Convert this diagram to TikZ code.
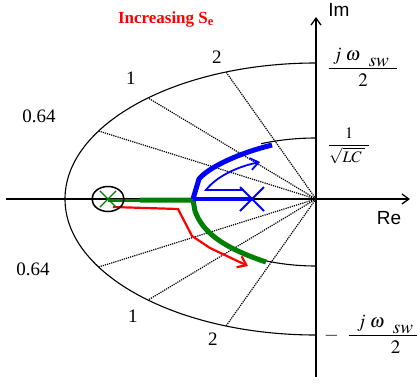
\documentclass[tikz,border=0pt]{standalone}
\usepackage{mathptmx}
\usepackage[no-math]{fontspec}
\setmainfont{Liberation Serif}
\newfontfamily\axisfont{Liberation Sans}
\usetikzlibrary{arrows.meta, shapes.geometric, shapes.misc}

\newcommand{\swsub}{\smash{\lower6pt\hbox{$sw$}}}

\begin{document}
\begin{tikzpicture}[x=1pt, y=1pt,
        axis/.style={-{Straight Barb[length=7pt, width=10pt]}, line width=1.3pt},
        bound/.style={line width=1.1pt},
        ray/.style={densely dotted, line width=1.2pt},
        lbl/.style={font=\fontsize{19}{22}\selectfont},
        axlbl/.style={font=\axisfont\fontsize{19}{22}\selectfont},
        wide/.style={line width=5pt},
        tip/.style={-{Straight Barb[length=8pt, width=12pt]}, line width=1.8pt},
    ]

    \useasboundingbox (-316,-184) rectangle (101,199);

    % Origin and axis ends:
    \coordinate (O) at (0,0);
    \coordinate (reL) at (-310,0);
    \coordinate (reR) at (94,0);
    \coordinate (imB) at (0,-178);
    \coordinate (imT) at (0,182);

    % Constant frequency curves:
    \draw[bound] (0,136) arc[start angle=90, end angle=270, x radius=251pt, y radius=136pt];
    \draw[bound] (0,61) arc[start angle=90, end angle=115, x radius=130pt, y radius=61pt];
    \draw[bound] (0,-67) arc[start angle=270, end angle=245, x radius=130pt, y radius=67pt];

    % Constant Q rays:
    \foreach \a/\n in {150/ua, 132/ub, 111/uc, 210/la, 228/lb, 249/lc} {
        \coordinate (\n) at (\a:251pt and 136pt);
        \draw[ray] (O) -- (\n);
    }

    % Axes:
    \draw[axis] (reL) -- (reR);
    \draw[axis] (imB) -- (imT);
    \node[axlbl] (re) at (73,-19) {Re};
    \node[axlbl] (im) at (23,189) {Im};

    % Labels:
    \node[lbl] (qa) at (-277,83) {0.64};
    \node[lbl] (qb) at (-185,121) {1};
    \node[lbl] (qc) at (-99,142) {2};
    \node[lbl] (qd) at (-283,-70) {0.64};
    \node[lbl] (qe) at (-183,-117) {1};
    \node[lbl] (qf) at (-103,-140) {2};
    \node[font=\fontsize{17}{20}\selectfont\bfseries, text=red] (inc) at (-150,180) {Increasing S\textsubscript{e}};

    \node[lbl] (wtop) at (47,132) {$\displaystyle\frac{\;j\;\omega\;\;\swsub\;\;}{2}$};
    \node[font=\fontsize{16}{19}\selectfont] (wlc) at (33,53) {$\displaystyle\frac{1}{\sqrt{LC\;}\;}$};
    \node[lbl, anchor=west, inner sep=0pt] (wbot) at (8,-135) {$-\;\;\displaystyle\frac{\;\;j\;\omega\;\;\swsub\;\;\;\;\;}{\;\;2}$};

    % Loci:
    \draw[red, tip, line width=2.2pt] (-203,-8) -- (-138,-10) -- (-124,-37) -- (-106,-49) -- (-68,-67);
    \draw[green!50!black, line width=3pt] (-208,-1) -- (-176,-1);
    \draw[green!50!black, wide] (-176,-1) -- (-123,-1) -- (-121,-12)
        .. controls (-114,-32) and (-95,-48) .. (-50,-63);
    \draw[blue, line width=4pt] (-123,0) -- (-64,0);
    \draw[blue, wide] (-123,0) -- (-117,20) .. controls (-108,31) and (-80,45) .. (-44,54);
    \draw[blue, tip] (-72,9) -- (-110,9) .. controls (-100,22) and (-80,32) .. (-56,37);

    % Pole and zero marks:
    \node[cross out, draw=blue, line width=2pt, minimum size=22pt] (pole) at (-64,0) {};
    \node[cross out, draw=green!50!black, line width=1.3pt, minimum size=15pt] (zero) at (-208,0) {};
    \node[ellipse, draw, line width=1.5pt, minimum width=32pt, minimum height=25pt] (ring) at (-208,0) {};
\end{tikzpicture}
\end{document}
